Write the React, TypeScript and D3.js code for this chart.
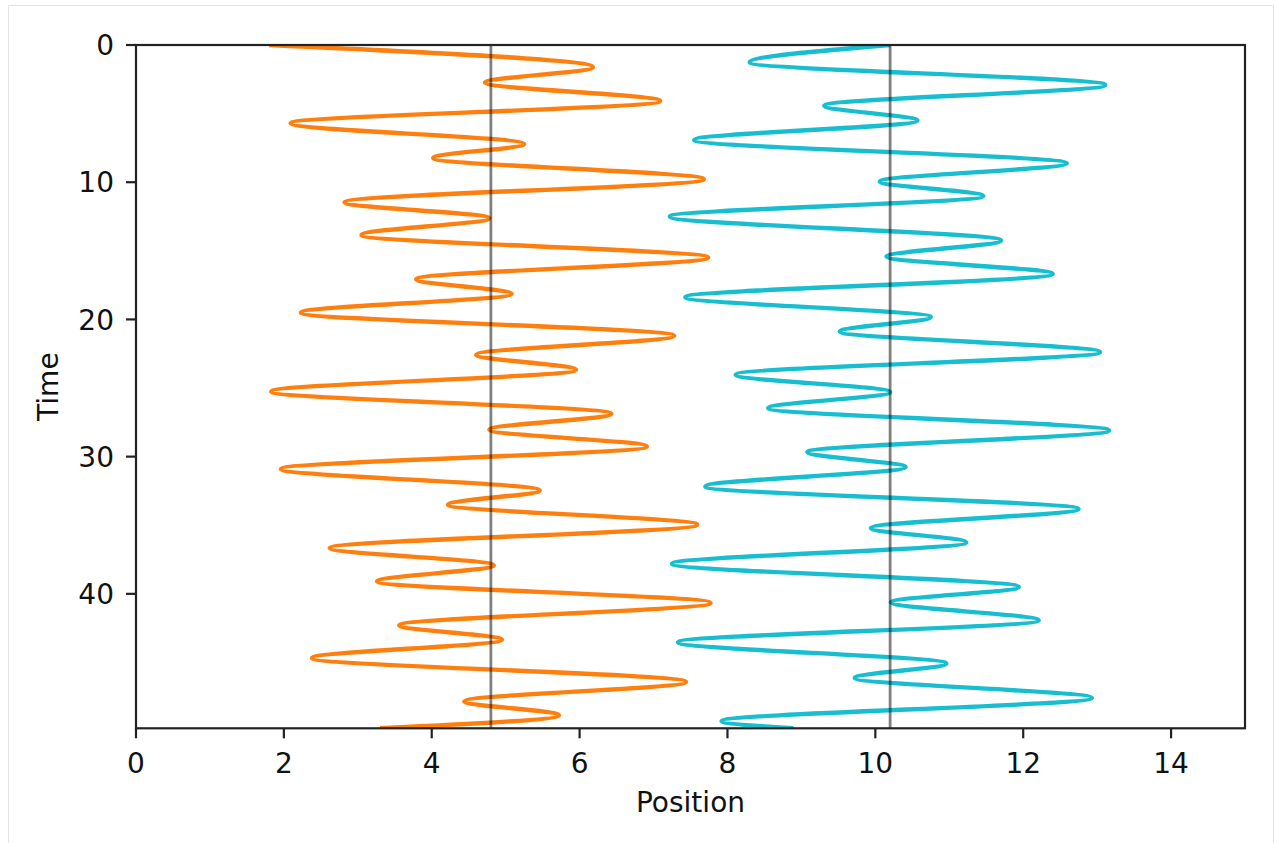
import React from 'react';
import * as d3 from 'd3';

// Turning points of each trace (position, time)
const orangeTime = [0, 1.62, 2.74, 4.08, 5.71, 7.21, 8.23, 9.78, 11.46, 12.62, 13.84, 15.49, 17.07, 18.14, 19.5, 21.19, 22.58, 23.67, 25.25, 26.88, 28.04, 29.26, 30.9, 32.46, 33.5, 34.96, 36.66, 37.92, 39.09, 40.66, 42.29, 43.34, 44.67, 46.42, 47.83, 48.85, 49.8];
const orangePos = [1.8, 6.18, 4.72, 7.09, 2.09, 5.25, 4.02, 7.68, 2.82, 4.78, 3.05, 7.74, 3.79, 5.08, 2.23, 7.28, 4.6, 5.95, 1.83, 6.43, 4.78, 6.91, 1.96, 5.46, 4.22, 7.59, 2.62, 4.84, 3.26, 7.77, 3.56, 4.95, 2.38, 7.44, 4.44, 5.72, 3.3];

const cyanTime = [0, 1.26, 2.91, 4.42, 5.51, 6.92, 8.62, 9.95, 11.0, 12.5, 14.25, 15.42, 16.68, 18.38, 19.83, 20.88, 22.38, 24.03, 25.3, 26.46, 28.09, 29.67, 30.76, 32.17, 33.82, 35.2, 36.25, 37.8, 39.5, 40.62, 41.93, 43.53, 45.08, 46.13, 47.58, 49.28, 49.8];
const cyanPos = [10.2, 8.3, 13.11, 9.31, 10.57, 7.55, 12.59, 10.06, 11.46, 7.22, 11.7, 10.15, 12.4, 7.43, 10.75, 9.52, 13.04, 8.11, 10.2, 8.55, 13.16, 9.08, 10.41, 7.7, 12.75, 9.94, 11.23, 7.25, 11.94, 10.21, 12.21, 7.33, 10.96, 9.72, 12.93, 7.92, 8.89];

const refLines = [4.8, 10.2];
const xTicks = [0, 2, 4, 6, 8, 10, 12, 14];
const yTicks = [0, 10, 20, 30, 40];

const FONT = '"DejaVu Sans", sans-serif';

export default function App() {
  const W = 1275, H = 843;
  const L = 136, R = 1245, T = 45, B = 728.3;
  const x = d3.scaleLinear().domain([0, 15]).range([L, R]);
  const y = d3.scaleLinear().domain([0, 49.8]).range([T, B]);
  const line = d3
    .line<[number, number]>()
    .x((d) => x(d[0]))
    .y((d) => y(d[1]))
    .curve(d3.curveMonotoneY);

  const orange = orangeTime.map((t, i) => [orangePos[i], t] as [number, number]);
  const cyan = cyanTime.map((t, i) => [cyanPos[i], t] as [number, number]);
  const fs = 28;

  return (
    <svg width={W} height={H} style={{ position: 'absolute', left: 0, top: 0, background: '#fff' }}>
      <rect x={8.5} y={5.5} width={1265} height={845} fill="#fff" stroke="#e3e3e3" strokeWidth={1} />
      <defs>
        <clipPath id="plot">
          <rect x={L} y={T} width={R - L} height={B - T} />
        </clipPath>
      </defs>
      <g clipPath="url(#plot)">
        <path d={line(orange) || ''} fill="none" stroke="#ff7f0e" strokeWidth={4.4} strokeLinejoin="round" />
        <path d={line(cyan) || ''} fill="none" stroke="#17becf" strokeWidth={4.4} strokeLinejoin="round" />
        {refLines.map((v) => (
          <line key={v} x1={x(v)} x2={x(v)} y1={T} y2={B} stroke="#000" strokeOpacity={0.5} strokeWidth={2.8} />
        ))}
      </g>
      <rect x={L} y={T} width={R - L} height={B - T} fill="none" stroke="#222" strokeWidth={2.2} />
      {xTicks.map((v) => (
        <g key={'x' + v}>
          <line x1={x(v)} x2={x(v)} y1={B} y2={B + 10} stroke="#222" strokeWidth={2.2} />
          <text x={x(v)} y={B + 45} textAnchor="middle" fontFamily={FONT} fontSize={fs} fill="#111">
            {v}
          </text>
        </g>
      ))}
      {yTicks.map((v) => (
        <g key={'y' + v}>
          <line x1={L - 10} x2={L} y1={y(v)} y2={y(v)} stroke="#222" strokeWidth={2.2} />
          <text x={L - 22} y={y(v) + 10.2} textAnchor="end" fontFamily={FONT} fontSize={fs} fill="#111">
            {v}
          </text>
        </g>
      ))}
      <text x={(L + R) / 2} y={812} textAnchor="middle" fontFamily={FONT} fontSize={fs} fill="#111">
        Position
      </text>
      <text
        transform={`translate(58, ${(T + B) / 2}) rotate(-90)`}
        textAnchor="middle"
        fontFamily={FONT}
        fontSize={fs}
        fill="#111"
      >
        Time
      </text>
    </svg>
  );
}
